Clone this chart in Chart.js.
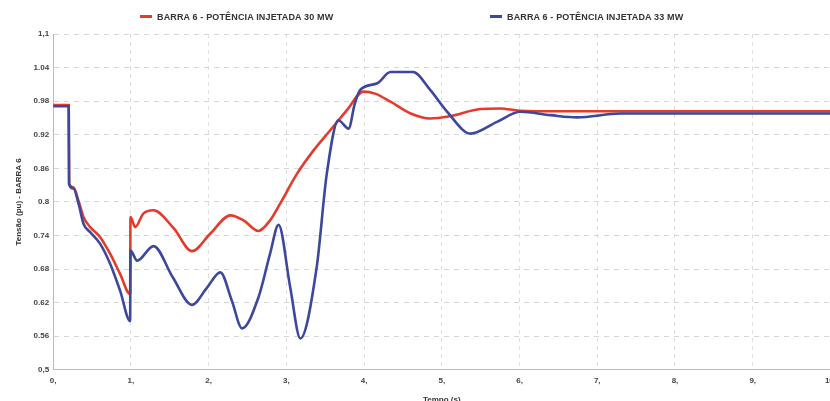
<!DOCTYPE html>
<html>
<head>
<meta charset="utf-8">
<script src="https://cdn.jsdelivr.net/npm/chart.js@4"></script>
<style>
  body { margin: 0; overflow: hidden; background: #fff; }
  #wrap { position: absolute; left: 0; top: 0; width: 842px; height: 405px; }
  .leg { position: absolute; top: 12px; font: bold 9px "Liberation Sans", Arial, sans-serif; letter-spacing: 0.15px; color: #333; white-space: nowrap; }
  .leg span { display: inline-block; width: 12px; height: 3px; margin-right: 5px; vertical-align: middle; position: relative; top: -1px; }
</style>
</head>
<body>
<div id="wrap"><canvas id="chart"></canvas></div>
<div class="leg" id="leg0" style="left:140px"></div>
<div class="leg" id="leg1" style="left:490px"></div>
<script>
// tempo (s) e tensao (pu)
const seriesNames = ['BARRA 6 - POTÊNCIA INJETADA 30 MW', 'BARRA 6 - POTÊNCIA INJETADA 33 MW'];
const seriesColors = ['#e53a2c', '#3d479c'];

const t30 = [0, 0.2, 0.205, 0.26, 0.33, 0.39, 0.476, 0.605, 0.734, 0.862, 0.99, 0.995, 1.055, 1.16, 1.29, 1.55, 1.785, 2.02, 2.28, 2.45, 2.64, 2.79, 2.92, 3.136, 3.35, 3.565, 3.78, 3.99, 4.15, 4.34, 4.6, 4.85, 5.1, 5.5, 5.75, 6.0, 6.5, 7, 8, 9, 10];
const v30 = [0.973, 0.973, 0.832, 0.826, 0.80, 0.773, 0.755, 0.737, 0.707, 0.671, 0.635, 0.773, 0.755, 0.779, 0.785, 0.753, 0.712, 0.743, 0.776, 0.767, 0.748, 0.767, 0.797, 0.850, 0.892, 0.928, 0.964, 0.997, 0.993, 0.979, 0.958, 0.949, 0.953, 0.966, 0.967, 0.963, 0.962, 0.962, 0.962, 0.962, 0.962];

const t33 = [0, 0.2, 0.205, 0.26, 0.33, 0.39, 0.476, 0.605, 0.734, 0.862, 0.99, 0.995, 1.08, 1.29, 1.54, 1.785, 1.98, 2.15, 2.3, 2.43, 2.64, 2.79, 2.9, 3.05, 3.18, 3.39, 3.52, 3.67, 3.8, 3.88, 3.95, 4.17, 4.34, 4.63, 4.85, 5.07, 5.37, 5.71, 6.01, 6.4, 6.74, 7.3, 8, 9, 10];
const v33 = [0.971, 0.971, 0.832, 0.824, 0.795, 0.761, 0.746, 0.725, 0.689, 0.641, 0.587, 0.713, 0.695, 0.721, 0.665, 0.616, 0.647, 0.674, 0.623, 0.574, 0.629, 0.707, 0.759, 0.647, 0.556, 0.683, 0.850, 0.946, 0.931, 0.975, 1.0, 1.012, 1.032, 1.032, 1.0, 0.961, 0.922, 0.943, 0.961, 0.955, 0.951, 0.958, 0.958, 0.958, 0.958];

const yTicks = [0.5, 0.56, 0.62, 0.68, 0.74, 0.8, 0.86, 0.92, 0.98, 1.04, 1.1];
const yLabels = ['0,5', '0.56', '0.62', '0.68', '0.74', '0.8', '0.86', '0.92', '0.98', '1.04', '1,1'];
const xTicks = [0, 1, 2, 3, 4, 5, 6, 7, 8, 9, 10];
const xLabels = ['0,', '1,', '2,', '3,', '4,', '5,', '6,', '7,', '8,', '9,', '10,'];

const tickFont = { family: '"Liberation Sans", Arial, sans-serif', size: 8, weight: 'bold' };

seriesNames.forEach(function(name, i) {
    document.getElementById('leg' + i).innerHTML = '<span style="background:' + seriesColors[i] + '"></span>' + name;
});

function pts(ts, vs) {
    return ts.map(function(t, i) { return { x: t, y: vs[i] }; });
}

new Chart(document.getElementById('chart'), {
    type: 'line',
    data: {
        datasets: [
            { label: seriesNames[0], data: pts(t30, v30), borderColor: seriesColors[0], borderWidth: 2.6, order: 1 },
            { label: seriesNames[1], data: pts(t33, v33), borderColor: seriesColors[1], borderWidth: 2.6, order: 0 }
        ]
    },
    options: {
        responsive: true,
        maintainAspectRatio: false,
        animation: false,
        events: [],
        elements: {
            point: { radius: 0 },
            line: { cubicInterpolationMode: 'monotone', fill: false }
        },
        layout: { padding: { top: 34, left: 14, right: 0, bottom: 0 } },
        plugins: { legend: { display: false }, tooltip: { enabled: false } },
        scales: {
            x: {
                type: 'linear',
                min: 0,
                max: 10,
                afterBuildTicks: function(axis) { axis.ticks = xTicks.map(function(v) { return { value: v }; }); },
                ticks: {
                    font: tickFont,
                    color: '#444',
                    padding: 6,
                    maxRotation: 0,
                    callback: function(v, i) { return xLabels[i]; }
                },
                grid: { color: '#dedede', drawTicks: false },
                border: { color: '#bbb', dash: [4, 4] },
                title: { display: true, text: 'Tempo (s)', font: tickFont, color: '#333', padding: { top: 4, bottom: 0 } }
            },
            y: {
                min: 0.5,
                max: 1.1,
                afterBuildTicks: function(axis) { axis.ticks = yTicks.map(function(v) { return { value: v }; }); },
                ticks: {
                    font: tickFont,
                    color: '#444',
                    padding: 4,
                    callback: function(v, i) { return yLabels[i]; }
                },
                grid: { color: '#d6d6d6', drawTicks: false },
                border: { color: '#bbb', dash: [5, 5] },
                title: { display: true, text: 'Tensão (pu) - BARRA 6', font: tickFont, color: '#333', padding: { top: 0, bottom: 6 } }
            }
        }
    }
});
</script>
</body>
</html>
